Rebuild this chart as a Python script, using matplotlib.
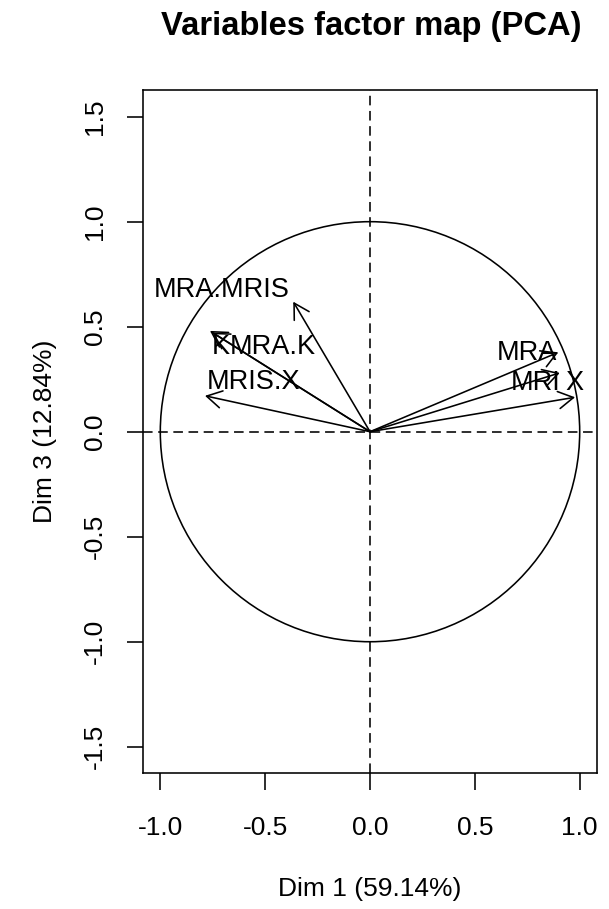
import matplotlib
matplotlib.use('Agg')
import matplotlib.pyplot as plt
from matplotlib.patches import Circle, FancyArrowPatch

plt.rcParams['font.family'] = ['Liberation Sans', 'DejaVu Sans']

# variable coordinates on Dim 1 / Dim 3
var_names = ['MRA.MRIS', 'K', 'MRA.K', 'MRIS.X', 'MRA', 'MRI', 'X']
dim1 = [-0.366, -0.763, -0.752, -0.787, 0.898, 0.905, 0.978]
dim3 = [0.619, 0.480, 0.472, 0.171, 0.378, 0.280, 0.164]

# where each label was drawn (data coords) and its alignment
lab_x = [-0.381, -0.754, -0.668, -0.779, 0.890, 0.910, 0.934]
lab_y = [0.675, 0.405, 0.405, 0.238, 0.373, 0.232, 0.232]
lab_ha = ['right', 'left', 'left', 'left', 'right', 'right', 'left']

ticks = [-1.0, -0.5, 0.0, 0.5, 1.0]
yticks = [-1.5, -1.0, -0.5, 0.0, 0.5, 1.0, 1.5]

title = 'Variables factor map (PCA)'
xlab = 'Dim 1 (59.14%)'
ylab = 'Dim 3 (12.84%)'

W, H = 609, 909
fig = plt.figure(figsize=(W / 100, H / 100), dpi=100)
ax = fig.add_axes([143 / W, 1 - 773 / H, (597 - 143) / W, (773 - 90) / H])

lw = 1.15
fs = 19

ax.set_xlim(-1.0825, 1.0825)
ax.set_ylim(-1.625, 1.627)

ax.add_patch(Circle((0, 0), 1, fill=False, lw=lw, color='black'))
ax.axhline(0, color='black', lw=lw, ls=(0, (6, 3.5)))
ax.axvline(0, color='black', lw=lw, ls=(0, (6, 3.5)))

for x, y in zip(dim1, dim3):
    arr = FancyArrowPatch((0, 0), (x, y),
                          arrowstyle='->,head_length=10.8,head_width=6.2',
                          mutation_scale=1, lw=lw, color='black',
                          shrinkA=0, shrinkB=0)
    ax.add_patch(arr)

for name, x, y, ha in zip(var_names, lab_x, lab_y, lab_ha):
    ax.text(x, y, name, ha=ha, va='center', fontsize=19.5, color='black')

ax.set_xticks(ticks)
ax.set_xticklabels([f'{t:.1f}' for t in ticks])
ax.set_yticks(yticks)
ax.set_yticklabels([f'{t:.1f}' for t in yticks], rotation=90, va='center')
ax.tick_params(axis='x', length=12.2, width=lw, pad=18.5, labelsize=fs)
ax.tick_params(axis='y', length=11.7, width=lw, pad=14.4, labelsize=fs)
for s in ax.spines.values():
    s.set_linewidth(lw)

fig.text(371 / W, 1 - 27 / H, title, ha='center', va='center',
         fontsize=23.6, fontweight='bold')
fig.text(370 / W, 1 - 889 / H, xlab, ha='center', va='center', fontsize=fs)
fig.text(45 / W, 1 - 431.5 / H, ylab, ha='center', va='center',
         fontsize=fs, rotation=90)

plt.savefig('out.png', dpi=100)
